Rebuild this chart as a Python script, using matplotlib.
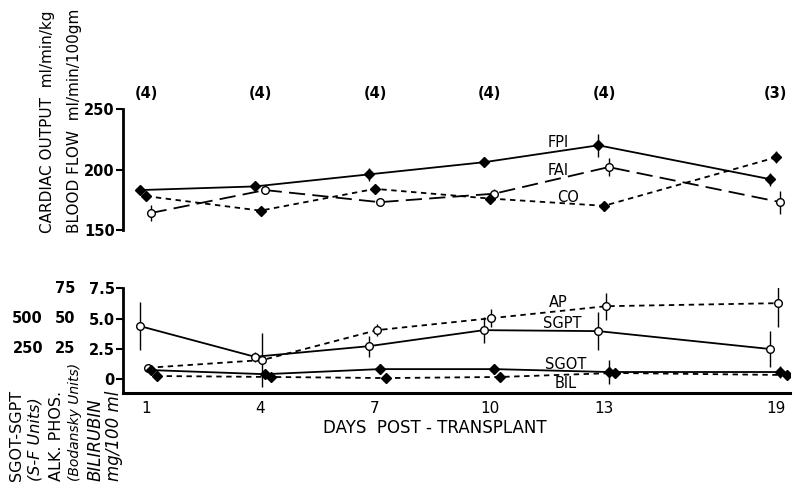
import matplotlib
matplotlib.use("Agg")
import matplotlib.pyplot as plt

# ---------------- data ----------------
days = [1, 4, 7, 10, 13, 19]
x_pos = [1, 4, 7, 10, 13, 17.5]          # axis positions (19 is compressed in original)
n_labels = ["(4)", "(4)", "(4)", "(4)", "(4)", "(3)"]

fpi = [183, 186, 196, 206, 220, 192]
fpi_err = [2, 2, 5.5, 3, 9.5, 5.5]
fai = [164, 183, 173, 180, 202, 173]
fai_err = [6.5, 3, 2, 4, 7.5, 9.5]
co = [178, 166, 184, 176, 170, 210]
co_err = [3.5, 2, 3, 3, 2.5, 5]

sgpt = [4.37, 1.84, 2.72, 4.04, 3.96, 2.48]
sgpt_err = [2.0, 0.4, 0.87, 1.07, 1.57, 1.5]
ap = [0.93, 1.57, 4.04, 5.03, 6.02, 6.27]
ap_err = [0.2, 2.2, 0.5, 0.74, 1.1, 2.0]
sgot = [0.74, 0.40, 0.82, 0.82, 0.58, 0.58]
sgot_err = [0.35, 0.25, 0.4, 0.4, 1.0, 0.5]
bil = [0.25, 0.17, 0.08, 0.17, 0.50, 0.33]
bil_err = [0.12, 0.1, 0.1, 0.1, 0.2, 0.35]

top_ticks = [150, 200, 250]
bot_ticks = [0, 2.5, 5.0, 7.5]
bil_labels = ["0", "2.5", "5.0", "7.5"]
alk_labels = ["", "25", "50", "75"]
sg_labels = ["", "250", "500", ""]

plt.rcParams['font.family'] = ['DejaVu Sans']
W, H = 800, 499
fig = plt.figure(figsize=(8.0, 4.99), dpi=100)

def fx(px):
    return px / W

def fy(py):
    return 1 - py / H

LW = 1.3
XL = (0.398, 17.87)
TICK_FS = 10.5

def series(ax, xs, ys, errs, off, ls, marker, filled):
    xx = [x + off for x in xs]
    ax.errorbar(xx, ys, yerr=errs, fmt='none', ecolor='black', elinewidth=1.0, capsize=0, zorder=2)
    ax.plot(xx, ys, color='black', lw=LW, ls=ls, zorder=3)
    ax.plot(xx, ys, ls='none', marker=marker, ms=5.5 if marker == 'o' else 5,
            mfc='black' if filled else 'white', mec='black', mew=1.0, zorder=4)

# ---------------- top panel ----------------
ax1 = fig.add_axes([fx(123), fy(230), fx(790) - fx(123), fy(109) - fy(230)])
ax1.set_xlim(*XL)
ax1.set_ylim(150, 250)
for s in ['top', 'right', 'bottom']:
    ax1.spines[s].set_visible(False)
ax1.spines['left'].set_linewidth(2.0)
ax1.set_xticks([])
ax1.set_yticks(top_ticks)
ax1.tick_params(axis='y', length=5, width=1.5, labelsize=TICK_FS, pad=1)
for t in ax1.get_yticklabels():
    t.set_fontweight('bold')
ax1.patch.set_alpha(0)

series(ax1, x_pos, fpi, fpi_err, -0.15, '-', 'D', True)
series(ax1, x_pos, fai, fai_err, 0.12, (0, (9, 4)), 'o', False)
series(ax1, x_pos, co, co_err, 0.0, (0, (3, 2.5)), 'D', True)

for xp, lab in zip(x_pos, n_labels):
    ax1.text(xp, 263, lab, ha='center', va='center', fontsize=10.5, fontweight='bold')

ax1.text(11.8, 222, "FPI", ha='center', va='center', fontsize=10.5)
ax1.text(11.8, 199, "FAI", ha='center', va='center', fontsize=10.5)
ax1.text(12.05, 177, "CO", ha='center', va='center', fontsize=10.5)

fig.text(fx(48), fy(233), "CARDIAC OUTPUT  ml/min/kg", rotation=90, ha='center', va='bottom', fontsize=11)
fig.text(fx(74), fy(233), "BLOOD FLOW  ml/min/100gm", rotation=90, ha='center', va='bottom', fontsize=11)

# ---------------- bottom panel ----------------
ax2 = fig.add_axes([fx(123), fy(392.7), fx(790) - fx(123), fy(288.3) - fy(392.7)])
ax2.set_xlim(*XL)
ax2.set_ylim(-1.13, 7.5)
for s in ['top', 'right']:
    ax2.spines[s].set_visible(False)
ax2.spines['left'].set_linewidth(2.0)
ax2.spines['bottom'].set_linewidth(2.2)
ax2.set_xticks(x_pos)
ax2.set_xticklabels([str(d) for d in days])
ax2.tick_params(axis='x', length=0, labelsize=11, pad=6)
ax2.set_yticks(bot_ticks)
ax2.set_yticklabels(bil_labels)
ax2.tick_params(axis='y', length=5, width=1.5, labelsize=TICK_FS, pad=1)
for t in ax2.get_yticklabels():
    t.set_fontweight('bold')
ax2.patch.set_alpha(0)

# extra tick label columns
for v, a, s in zip(bot_ticks, alk_labels, sg_labels):
    if a:
        ax2.annotate(a, xy=(0, v), xycoords=('axes fraction', 'data'), xytext=(-48, 0),
                     textcoords='offset pixels', ha='right', va='center', fontsize=TICK_FS,
                     fontweight='bold')
    if s:
        ax2.annotate(s, xy=(0, v), xycoords=('axes fraction', 'data'), xytext=(-80, 0),
                     textcoords='offset pixels', ha='right', va='center', fontsize=TICK_FS,
                     fontweight='bold')

series(ax2, x_pos, sgpt, sgpt_err, -0.15, '-', 'o', False)
series(ax2, x_pos, ap, ap_err, 0.05, (0, (3, 2.5)), 'o', False)
series(ax2, x_pos, sgot, sgot_err, 0.12, '-', 'D', True)
series(ax2, x_pos, bil, bil_err, 0.28, (0, (3, 2.5)), 'D', True)

ax2.text(11.8, 6.3, "AP", ha='center', va='center', fontsize=10.5)
ax2.text(11.9, 4.55, "SGPT", ha='center', va='center', fontsize=10.5)
ax2.text(12.0, 1.24, "SGOT", ha='center', va='center', fontsize=10.5)
ax2.text(12.0, -0.33, "BIL", ha='center', va='center', fontsize=10.5)

fig.text(fx(435), fy(428), "DAYS  POST - TRANSPLANT", ha='center', va='center', fontsize=12)

fig.text(fx(17), fy(481), "SGOT-SGPT", rotation=90, ha='center', va='bottom', fontsize=11.5)
fig.text(fx(35), fy(481), "(S-F Units)", rotation=90, ha='center', va='bottom', fontsize=11.5, style='italic')
fig.text(fx(56), fy(481), "ALK. PHOS.", rotation=90, ha='center', va='bottom', fontsize=11.5)
fig.text(fx(75), fy(481), "(Bodansky Units)", rotation=90, ha='center', va='bottom', fontsize=10, style='italic')
fig.text(fx(96), fy(481), "BILIRUBIN", rotation=90, ha='center', va='bottom', fontsize=12, style='italic')
fig.text(fx(114), fy(481), "mg/100 ml", rotation=90, ha='center', va='bottom', fontsize=12, style='italic')

fig.savefig("out.png", dpi=100)
